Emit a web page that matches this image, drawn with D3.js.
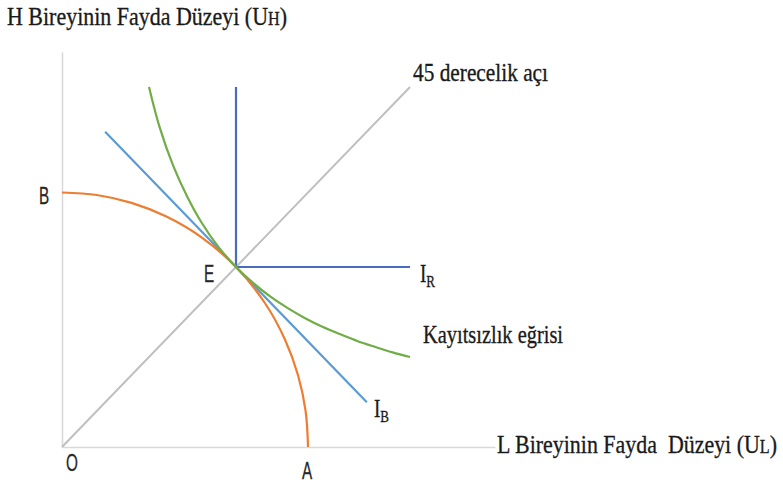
<!DOCTYPE html>
<html>
<head>
<meta charset="utf-8">
<script src="https://cdn.jsdelivr.net/npm/d3@7"></script>
<style>
  html, body { margin: 0; padding: 0; background: #ffffff; }
  svg { display: block; }
</style>
</head>
<body>
<svg id="chart" width="783" height="489"></svg>
<script>
// Utility levels of the two individuals (U_L on x, U_H on y), 0–100 scale
const frontierL = [0, 10, 20, 30, 40, 50, 58.3, 64, 67.8, 70, 70.7];
const frontierH = [70.7, 70, 67.8, 64, 58.3, 50, 40, 30, 20, 10, 0];

const indiffL = [25, 28, 32, 36, 40, 45, 50, 55, 60, 65, 70, 75, 80, 85, 90, 95, 100];
const indiffH = [100, 89, 78, 69.5, 62.5, 55.5, 50, 45.5, 41.7, 38.5, 35.7, 33.3, 31.3, 29.4, 27.8, 26.3, 25];

const benthamL = [12.4, 87.6];
const benthamH = [87.6, 12.4];

const rawlsL = [50, 50, 100];
const rawlsH = [100, 50, 50];

const diagL = [0, 100];
const diagH = [0, 100];

const axisMaxL = 124.4;
const axisMaxH = 109.7;

const svg = d3.select("#chart");

const x = d3.scaleLinear().domain([0, 100]).range([62, 410]);
const y = d3.scaleLinear().domain([0, 100]).range([447, 87]);

const zip = (a, b) => a.map((v, i) => [v, b[i]]);

// Axes without ticks
const xAxisScale = d3.scaleLinear().domain([0, axisMaxL]).range([x(0), x(axisMaxL)]);
const yAxisScale = d3.scaleLinear().domain([0, axisMaxH]).range([y(0), y(axisMaxH)]);

const gx = svg.append("g").attr("transform", `translate(0,${y(0)})`)
  .call(d3.axisBottom(xAxisScale).tickValues([]).tickSizeOuter(0));
const gy = svg.append("g").attr("transform", `translate(${x(0)},0)`)
  .call(d3.axisLeft(yAxisScale).tickValues([]).tickSizeOuter(0));
[gx, gy].forEach(g => g.select(".domain").attr("stroke", "#d9d9d9").attr("stroke-width", 1.6));

const straight = d3.line().x(d => x(d[0])).y(d => y(d[1]));
const smooth = d3.line().x(d => x(d[0])).y(d => y(d[1])).curve(d3.curveCatmullRom.alpha(0.5));

// 45-degree line
svg.append("path").datum(zip(diagL, diagH))
  .attr("d", straight).attr("fill", "none")
  .attr("stroke", "#bfbfbf").attr("stroke-width", 2);

// Rawlsian indifference curve I_R
svg.append("path").datum(zip(rawlsL, rawlsH))
  .attr("d", straight).attr("fill", "none")
  .attr("stroke", "#4a6cc0").attr("stroke-width", 2.2);

// Benthamite indifference curve I_B
svg.append("path").datum(zip(benthamL, benthamH))
  .attr("d", straight).attr("fill", "none")
  .attr("stroke", "#5b9bd5").attr("stroke-width", 2.2);

// Utility possibility frontier
svg.append("path").datum(zip(frontierL, frontierH))
  .attr("d", smooth)
  .attr("fill", "none").attr("stroke", "#ed7d31").attr("stroke-width", 2.2);

// Social indifference curve
svg.append("path").datum(zip(indiffL, indiffH))
  .attr("d", smooth)
  .attr("fill", "none").attr("stroke", "#70ad47").attr("stroke-width", 2.2);

// Text
const serif = "'Liberation Serif', 'Times New Roman', serif";
const sans = "'Liberation Sans Narrow', 'Liberation Sans', Arial, sans-serif";

function stretched(tx, ty, width) {
  const t = svg.append("text")
    .attr("transform", `translate(${tx},${ty}) scale(1,1.3)`)
    .attr("font-family", serif).attr("font-size", 19)
    .attr("fill", "#1a1a1a").attr("stroke", "#1a1a1a").attr("stroke-width", 0.25);
  if (width) t.attr("textLength", width).attr("lengthAdjust", "spacingAndGlyphs");
  return t;
}

// Axis titles
const tY = stretched(7, 25, 280);
tY.append("tspan").text("H Bireyinin Fayda Düzeyi (U");
tY.append("tspan").attr("font-size", 14).text("H");
tY.append("tspan").text(")");

const tX = stretched(497, 453, 280).attr("xml:space", "preserve");
tX.append("tspan").text("L Bireyinin Fayda  Düzeyi (U");
tX.append("tspan").attr("font-size", 14).text("L");
tX.append("tspan").text(")");

stretched(413, 81, 135).text("45 derecelik açı");
stretched(423, 343, 140).text("Kayıtsızlık eğrisi");

// Curve labels with subscripts
const tR = stretched(420, 282);
tR.append("tspan").text("I");
tR.append("tspan").attr("font-size", 13).attr("dy", 4).text("R");

const tB = stretched(374, 417);
tB.append("tspan").text("I");
tB.append("tspan").attr("font-size", 13).attr("dy", 4).text("B");

// Point labels
const pts = [["B", 44, 204], ["E", 209, 282], ["O", 72, 471], ["A", 307, 479]];
pts.forEach(([t, px, py]) => {
  svg.append("text")
    .attr("transform", `translate(${px},${py}) scale(0.85,1.3)`)
    .attr("text-anchor", "middle")
    .attr("font-family", sans).attr("font-size", 18)
    .attr("fill", "#262626").attr("stroke", "#262626").attr("stroke-width", 0.2)
    .text(t);
});
</script>
</body>
</html>
